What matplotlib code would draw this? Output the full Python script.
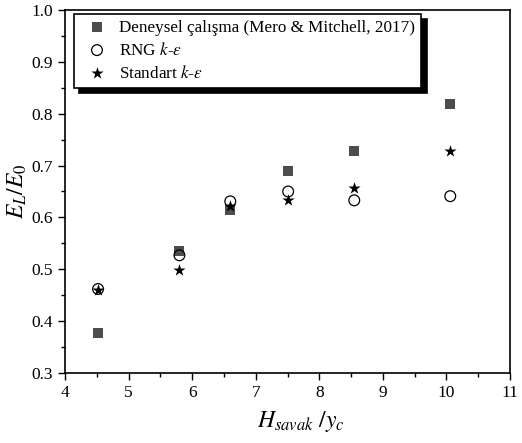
import numpy as np
import matplotlib
matplotlib.use('Agg')
import matplotlib.pyplot as plt
from matplotlib.ticker import MultipleLocator

plt.rcParams['font.family'] = 'Liberation Serif'
plt.rcParams['mathtext.fontset'] = 'stix'

# datos
h_ratio = [4.52, 5.80, 6.60, 7.51, 8.55, 10.06]
deneysel = [0.378, 0.535, 0.614, 0.690, 0.728, 0.819]
rng = [0.462, 0.527, 0.631, 0.650, 0.633, 0.641]
standart = [0.460, 0.498, 0.622, 0.634, 0.656, 0.729]

fig = plt.figure(figsize=(5.22, 4.43), dpi=100)
ax = fig.add_axes([65 / 522, 70 / 443, 445 / 522, 363 / 443])

ax.scatter(h_ratio, deneysel, marker='s', s=55, color='#4d4d4d', linewidths=0,
           label='Deneysel çalışma (Mero & Mitchell, 2017)', zorder=3)
ax.scatter(h_ratio, rng, marker='o', s=60, facecolors='none', edgecolors='black',
           linewidths=0.9, label=r'RNG $k$-$\varepsilon$', zorder=3)
ax.scatter(h_ratio, standart, marker='*', s=85, color='black', linewidths=0,
           label=r'Standart $k$-$\varepsilon$', zorder=4)

ax.set_xlim(4, 11)
ax.set_ylim(0.3, 1.0)
ax.xaxis.set_major_locator(MultipleLocator(1))
ax.xaxis.set_minor_locator(MultipleLocator(0.5))
ax.yaxis.set_major_locator(MultipleLocator(0.1))
ax.yaxis.set_minor_locator(MultipleLocator(0.05))
ax.yaxis.set_major_formatter(matplotlib.ticker.FormatStrFormatter('%.1f'))
ax.tick_params(which='both', direction='out', top=False, right=False, labelsize=12.5)
ax.tick_params(which='major', length=5, width=1)
ax.tick_params(which='minor', length=3, width=1)
for s in ax.spines.values():
    s.set_linewidth(1.2)

ax.set_xlabel(r'$H_{savak}\ /y_c$', fontsize=17, labelpad=12)
ax.xaxis.set_label_coords(0.53, -0.1)
ax.set_ylabel(r'$E_L/E_0$', fontsize=17, labelpad=2)

leg = ax.legend(loc='upper left', bbox_to_anchor=(0.02, 0.99), fontsize=12.3,
                frameon=True, fancybox=False, edgecolor='black', framealpha=1,
                shadow={'ox': 4, 'oy': -4, 'color': 'black', 'alpha': 1},
                borderaxespad=0, handletextpad=0.3, labelspacing=0.35,
                borderpad=0.35)
leg.get_frame().set_linewidth(1.2)

fig.savefig('out.png', dpi=100)
